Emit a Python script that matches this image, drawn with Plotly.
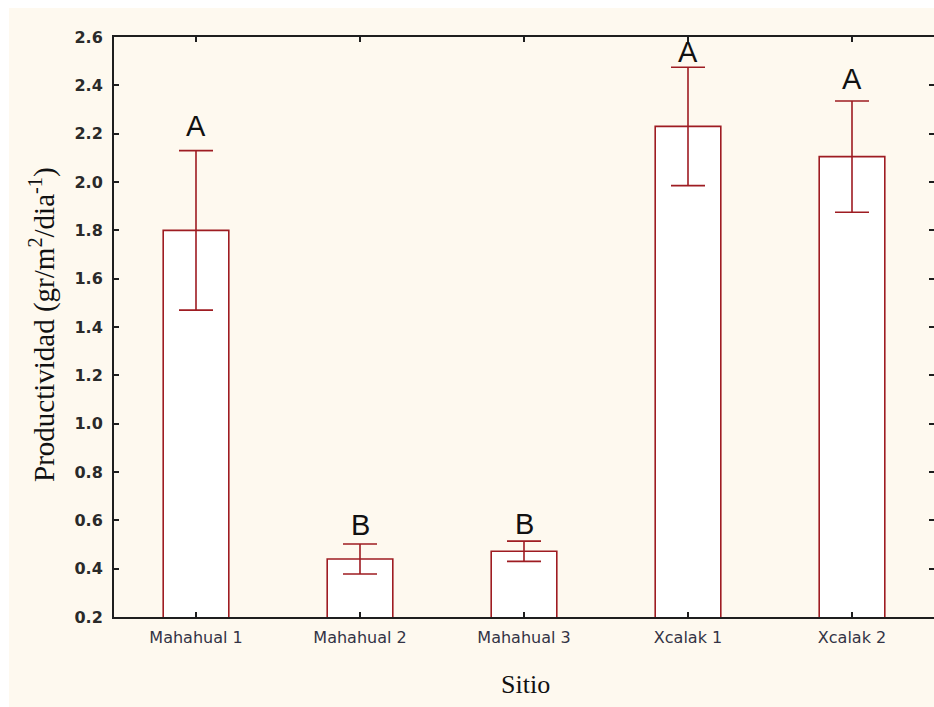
import plotly.graph_objects as go

# Productivity by site (mean and error), with Tukey-style group letters
sites = ["Mahahual 1", "Mahahual 2", "Mahahual 3", "Xcalak 1", "Xcalak 2"]
means = [1.80, 0.44, 0.472, 2.23, 2.105]
errors = [0.33, 0.062, 0.042, 0.245, 0.23]
groups = ["A", "B", "B", "A", "A"]
y_ticks = [0.2, 0.4, 0.6, 0.8, 1.0, 1.2, 1.4, 1.6, 1.8, 2.0, 2.2, 2.4, 2.6]

BAR = "#9E1C22"
AXIS = "#1e1e1e"
CREAM = "#FEF9EF"
PLOT_H = 580   # plot-area height in px
PLOT_W = 820   # plot-area width in px

fig = go.Figure()
fig.add_trace(go.Bar(
    x=sites, y=means,
    marker=dict(color="white", line=dict(color=BAR, width=1.6)),
    error_y=dict(type="data", array=errors, color=BAR, thickness=1.6, width=17),
    width=0.4,
    showlegend=False, hoverinfo="x+y",
))
# trace on the mirrored axis so the right-hand ticks are drawn
fig.add_trace(go.Scatter(x=sites, y=means, yaxis="y2", mode="markers",
                         marker=dict(opacity=0), showlegend=False, hoverinfo="skip"))

# group letters above each error bar
letter_shift = [25, 19, 17, 15, 22]
for s, m, e, g, sh in zip(sites, means, errors, groups, letter_shift):
    fig.add_annotation(x=s, y=m + e, text=g, showarrow=False, yanchor="middle",
                       yshift=sh, font=dict(family="Liberation Sans", size=29, color="#111"))

# axis titles
fig.add_annotation(xref="paper", yref="paper", x=(525 - 114) / PLOT_W, y=(617 - 684) / PLOT_H,
                   text="Sitio", showarrow=False, xanchor="center", yanchor="middle",
                   font=dict(family="Liberation Serif", size=26, color="#111"))
fig.add_annotation(xref="paper", yref="paper", x=(42 - 114) / PLOT_W, y=(617 - 325) / PLOT_H,
                   text="Productividad (gr/m<sup>2</sup>/dia<sup>-1</sup>)", textangle=-90,
                   showarrow=False, xanchor="center", yanchor="middle",
                   font=dict(family="Liberation Serif", size=29, color="#111"))

# cream page background with a thin white edge at top and left
fig.add_shape(type="rect", xref="paper", yref="paper",
              x0=(9 - 114) / PLOT_W, x1=1.01, y0=-(707 - 617) / PLOT_H - 0.01, y1=(617 - 8) / PLOT_H,
              fillcolor=CREAM, line=dict(width=0), layer="below")

fig.update_layout(
    width=934, height=707,
    margin=dict(l=114, r=0, t=37, b=90),
    paper_bgcolor="white", plot_bgcolor="white",
    bargap=0.6,
    xaxis=dict(
        showline=True, linecolor=AXIS, linewidth=2, mirror="ticks",
        ticks="inside", ticklen=5, tickcolor=AXIS, tickwidth=2,
        showgrid=False, zeroline=False, ticklabelstandoff=5,
        tickfont=dict(family="DejaVu Sans", size=16, color="#333345"),
    ),
    yaxis=dict(
        range=[0.2, 2.6], tickvals=y_ticks, ticktext=[f"{v:.1f}" for v in y_ticks],
        showline=True, linecolor=AXIS, linewidth=2, mirror=False,
        ticks="inside", ticklen=5, tickcolor=AXIS, tickwidth=2,
        showgrid=False, zeroline=False, ticklabelstandoff=6,
        tickfont=dict(family="DejaVu Sans", size=16, color="#2a2a2a", weight="bold"),
    ),
    yaxis2=dict(
        overlaying="y", side="right", range=[0.2, 2.6], tickvals=y_ticks,
        showticklabels=False, ticks="inside", ticklen=5, tickcolor=AXIS, tickwidth=2,
        showline=False, showgrid=False, zeroline=False,
    ),
)

fig.write_html("out.html")
